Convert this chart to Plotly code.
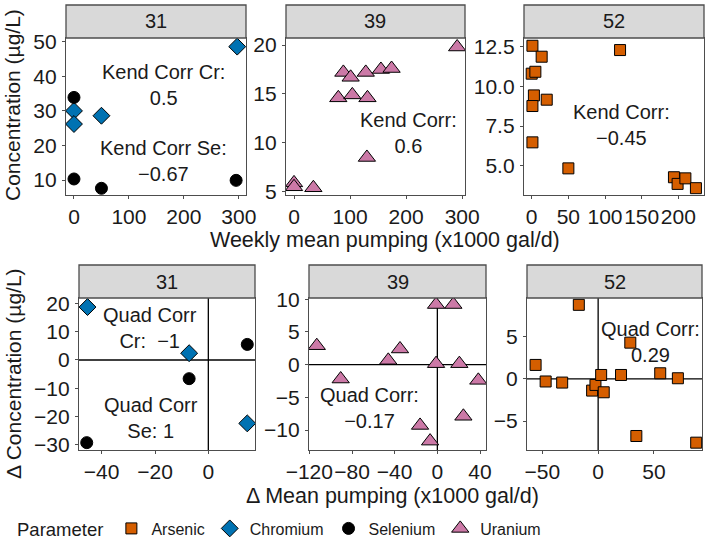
import plotly.graph_objects as go

W, H = 709, 548

# ---------------- data ----------------
parameters = ["Arsenic", "Chromium", "Selenium", "Uranium"]
wells = ["31", "39", "52"]

# Top row: weekly mean pumping vs concentration
top31_cr_x = [0, 0, 50, 297]
top31_cr_y = [30.0, 26.2, 28.6, 48.6]
top31_se_x = [0, 0, 50, 295]
top31_se_y = [33.9, 10.3, 7.6, 9.9]

top39_u_x = [291, 88, 101, 128, 155, 174, 79, 104, 131, 130, 0, 0, 34.5]
top39_u_y = [19.8, 17.2, 16.7, 17.2, 17.5, 17.6, 14.6, 14.9, 14.6, 8.5, 5.9, 5.5, 5.4]

top52_as_x = [1, 13.6, 120.5, 0, 5, 3, 20.5, 1, 1, 50, 194, 199, 209.6, 224]
top52_as_y = [12.56, 11.87, 12.29, 10.8, 10.92, 9.43, 9.16, 8.76, 6.47, 4.83, 4.27, 3.85, 4.2, 3.58]

# Bottom row: change in mean pumping vs change in concentration
bot31_cr_x = [-45.3, -7.2, 14.6]
bot31_cr_y = [18.7, 2.4, -22.4]
bot31_se_x = [-45.6, -7.2, 14.6]
bot31_se_y = [-29.2, -6.6, 5.5]

bot39_u_x = [-113, -90.6, -46, -35, -16.2, -6.8, -1.2, 15, -1.2, 20.6, 38.4, 24.4]
bot39_u_y = [2.9, -2.2, 0.66, 2.4, -9.3, -11.7, 9.2, 9.2, 0.15, 0.15, -2.4, -7.9]

bot52_as_x = [-17.3, -56, -47, -32.2, -5.4, -2.4, 2.7, 5, 20.5, 28.8, 55.6, 71.4, 34.2, 87.8]
bot52_as_y = [8.78, 1.66, -0.3, -0.43, -1.38, -0.71, 0.47, -1.58, 0.47, 4.3, 0.67, 0.08, -6.76, -7.55]

# correlation labels
top_labels = [["Kend Corr Cr:<br>0.5", "Kend Corr Se:<br>−0.67"], ["Kend Corr:<br>0.6"], ["Kend Corr:<br>−0.45"]]
bot_labels = [["Quad Corr<br>Cr:  −1", "Quad Corr<br>Se: 1"], ["Quad Corr:<br>−0.17"], ["Quad Corr:<br>0.29"]]

# ---------------- styles ----------------
FONT = "Liberation Sans, Arial, sans-serif"
styles = {
    "Arsenic": dict(symbol="square", color="#D55E00", size=11),
    "Chromium": dict(symbol="diamond", color="#0072B2", size=13),
    "Selenium": dict(symbol="circle", color="#000000", size=12),
    "Uranium": dict(symbol="triangle-up", color="#CC79A7", size=15),
}

# panel boxes in pixels (left, right, top, bottom)
panels = [
    (66, 246, 38, 195), (286, 465, 38, 195), (524, 704, 38, 195),
    (79, 255, 298, 450), (309, 486, 298, 450), (527, 702, 298, 450),
]
strip_h = 33

ranges = [
    ([-14.5, 313], [5.66, 51.1]),
    ([-14.3, 305], [4.66, 20.72]),
    ([-10.5, 235], [3.15, 13.05]),
    ([-48.5, 17.5], [-31.8, 21.9]),
    ([-120.3, 45.6], [-13.06, 10.2]),
    ([-63.7, 93], [-8.42, 9.59]),
]
xticks = [[0, 100, 200, 300], [0, 100, 200, 300], [0, 50, 100, 150, 200],
          [-40, -20, 0], [-120, -80, -40, 0, 40], [-50, 0, 50]]
yticks = [[10, 20, 30, 40, 50], [5, 10, 15, 20], [5.0, 7.5, 10.0, 12.5],
          [-30, -20, -10, 0, 10, 20], [-10, -5, 0, 5, 10], [-5, 0, 5]]
yfmt = ["", "", ".1f", "", "", ""]

fig = go.Figure()

shown = set()


def add(panel, name, xs, ys):
    st = styles[name]
    ax = "" if panel == 0 else str(panel + 1)
    fig.add_trace(go.Scatter(
        x=xs, y=ys, mode="markers", name=name, legendgroup=name,
        showlegend=name not in shown,
        legendrank=parameters.index(name) + 1,
        marker=dict(symbol=st["symbol"], color=st["color"], size=st["size"],
                    line=dict(color="black", width=1)),
        xaxis="x" + ax, yaxis="y" + ax,
    ))
    shown.add(name)


add(0, "Chromium", top31_cr_x, top31_cr_y)
add(0, "Selenium", top31_se_x, top31_se_y)
add(1, "Uranium", top39_u_x, top39_u_y)
add(2, "Arsenic", top52_as_x, top52_as_y)
add(3, "Chromium", bot31_cr_x, bot31_cr_y)
add(3, "Selenium", bot31_se_x, bot31_se_y)
add(4, "Uranium", bot39_u_x, bot39_u_y)
add(5, "Arsenic", bot52_as_x, bot52_as_y)

layout = dict(
    width=W, height=H, margin=dict(l=0, r=0, t=0, b=0, autoexpand=False),
    paper_bgcolor="white", plot_bgcolor="white",
    font=dict(family=FONT, size=20, color="#1a1a1a"),
    showlegend=True,
)

shapes = []
annotations = []
for i, (l, r, t, b) in enumerate(panels):
    ax = "" if i == 0 else str(i + 1)
    axis_common = dict(
        showgrid=False, zeroline=False, showline=True, mirror=True,
        linecolor="#4d4d4d", linewidth=1.3, ticks="outside", ticklen=3,
        tickcolor="#4d4d4d", tickwidth=1, tickangle=0,
        tickfont=dict(family=FONT, size=21, color="#1a1a1a"),
    )
    layout["xaxis" + ax] = dict(
        domain=[l / W, r / W], range=ranges[i][0], anchor="y" + ax,
        tickvals=xticks[i], ticklabelstandoff=0, **axis_common)
    ya = dict(domain=[1 - b / H, 1 - t / H], range=ranges[i][1], anchor="x" + ax,
              tickvals=yticks[i], ticklabelstandoff=1, **axis_common)
    if yfmt[i]:
        ya["tickformat"] = yfmt[i]
    layout["yaxis" + ax] = ya
    # strip
    shapes.append(dict(type="rect", xref="paper", yref="paper",
                       x0=l / W, x1=r / W, y0=1 - t / H, y1=1 - (t - strip_h) / H,
                       fillcolor="#d9d9d9", line=dict(color="#4d4d4d", width=1.3)))
    annotations.append(dict(text=wells[i % 3], xref="paper", yref="paper",
                            x=(l + r) / 2 / W, y=1 - (t - strip_h / 2) / H,
                            showarrow=False, font=dict(size=20, color="#1a1a1a"),
                            xanchor="center", yanchor="middle"))
    if i >= 3:
        shapes.append(dict(type="line", xref="x" + ax, yref="y" + ax + " domain",
                           x0=0, x1=0, y0=0, y1=1, line=dict(color="black", width=1.3),
                           layer="below"))
        shapes.append(dict(type="line", xref="x" + ax + " domain", yref="y" + ax,
                           x0=0, x1=1, y0=0, y1=0, line=dict(color="black", width=1.3),
                           layer="below"))

# correlation annotations (data coordinates)
text_pos = [
    [(162, 37.5), (162, 15.5)],
    [(204, 11.0)],
    [(122, 7.57)],
    [(-22, 11.4), (-21.5, -20.4)],
    [(-64, -6.6)],
    [(46.7, 4.42)],
]
all_labels = top_labels + bot_labels
for i, poss in enumerate(text_pos):
    ax = "" if i == 0 else str(i + 1)
    for (x, y), txt in zip(poss, all_labels[i]):
        annotations.append(dict(text=txt, x=x, y=y, xref="x" + ax, yref="y" + ax,
                                showarrow=False, font=dict(size=20, color="#1a1a1a"),
                                xanchor="center", yanchor="middle", align="center"))

# axis titles
annotations += [
    dict(text="Weekly mean pumping (x1000 gal/d)", xref="paper", yref="paper",
         x=385 / W, y=1 - 240 / H, showarrow=False, font=dict(size=21.5),
         xanchor="center", yanchor="middle"),
    dict(text="Δ Mean pumping (x1000 gal/d)", xref="paper", yref="paper",
         x=392 / W, y=1 - 496 / H, showarrow=False, font=dict(size=21.5),
         xanchor="center", yanchor="middle"),
    dict(text="Concentration (µg/L)", xref="paper", yref="paper",
         x=13 / W, y=1 - 105 / H, showarrow=False, font=dict(size=21), textangle=-90,
         xanchor="center", yanchor="middle"),
    dict(text="Δ Concentration (µg/L)", xref="paper", yref="paper",
         x=13 / W, y=1 - 374 / H, showarrow=False, font=dict(size=21), textangle=-90,
         xanchor="center", yanchor="middle"),
]

layout["shapes"] = shapes
layout["annotations"] = annotations
layout["legend"] = dict(
    orientation="h", x=15 / W, y=1 - 529 / H, xanchor="left", yanchor="middle",
    title=dict(text="Parameter", font=dict(size=18.5)), font=dict(size=16),
    itemsizing="trace", traceorder="normal", bgcolor="rgba(0,0,0,0)",
)
fig.update_layout(**layout)

fig.write_html("out.html")
